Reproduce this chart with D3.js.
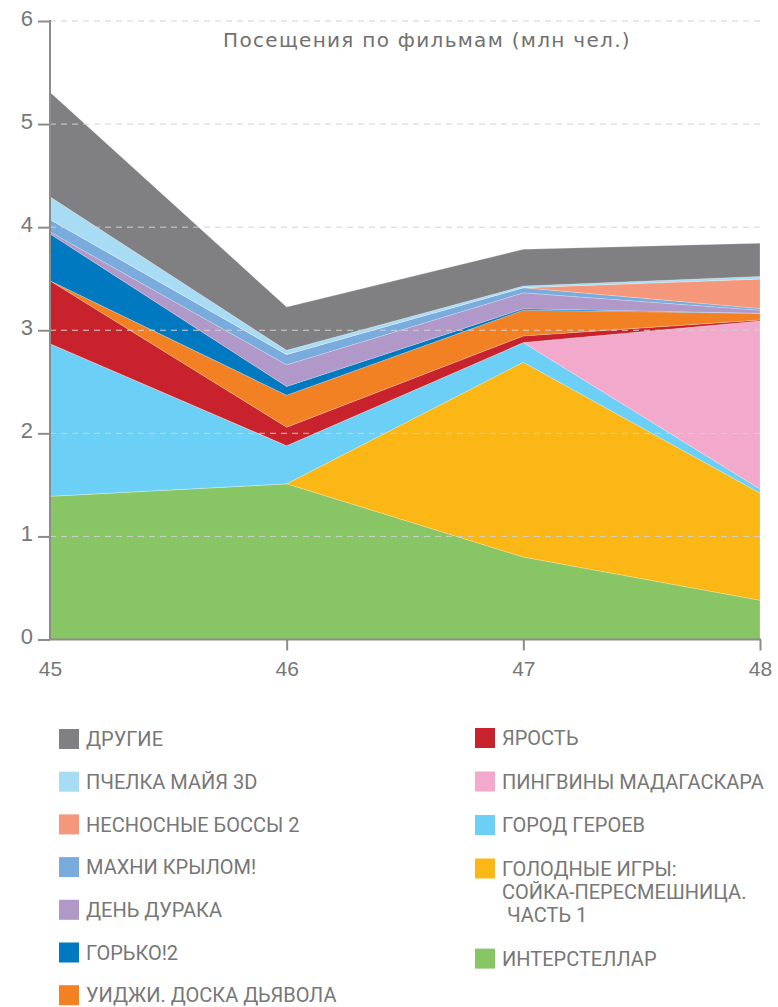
<!DOCTYPE html>
<html><head><meta charset="utf-8">
<script src="https://cdn.jsdelivr.net/npm/d3@7"></script>
<style>
body{margin:0;background:#fff;}
svg{display:block;font-family:"Liberation Sans", Arial, sans-serif;}
</style></head><body>
<svg id="c" width="778" height="1007"></svg>
<script>
const weeks = [45, 46, 47, 48];
const interstellar   = [1.39, 1.51, 0.80, 0.38];
const hungerGames    = [0, 0, 1.89, 1.04];
const bigHero        = [1.48, 0.37, 0.19, 0.04];
const penguins       = [0, 0, 0, 1.63];
const fury           = [0.61, 0.18, 0.065, 0.01];
const ouija          = [0, 0.31, 0.25, 0.065];
const gorko          = [0.455, 0.085, 0.013, 0];
const foolsDay       = [0.02, 0.21, 0.155, 0.03];
const makhni         = [0.12, 0.10, 0.05, 0.016];
const horribleBosses = [0, 0, 0, 0.285];
const maya           = [0.22, 0.04, 0.016, 0.026];
const others         = [1.015, 0.42, 0.356, 0.323];

const seriesNames = ["ИНТЕРСТЕЛЛАР","ГОЛОДНЫЕ ИГРЫ","ГОРОД ГЕРОЕВ","ПИНГВИНЫ МАДАГАСКАРА","ЯРОСТЬ",
  "УИДЖИ. ДОСКА ДЬЯВОЛА","ГОРЬКО!2","ДЕНЬ ДУРАКА","МАХНИ КРЫЛОМ!","НЕСНОСНЫЕ БОССЫ 2","ПЧЕЛКА МАЙЯ 3D","ДРУГИЕ"];
const seriesValues = [interstellar, hungerGames, bigHero, penguins, fury, ouija, gorko, foolsDay, makhni, horribleBosses, maya, others];
const colors = ["#88c564","#fbb715","#6ccff6","#f2a9cb","#c8232d","#f28123","#0079c1","#b099c8","#79abdc","#f4977a","#a8dcf5","#808083"];

const yTicks = [0,1,2,3,4,5,6];
const title = "Посещения по фильмам (млн чел.)";

const legendLeft = [
  {name:"ДРУГИЕ", lines:["ДРУГИЕ"]},
  {name:"ПЧЕЛКА МАЙЯ 3D", lines:["ПЧЕЛКА МАЙЯ 3D"]},
  {name:"НЕСНОСНЫЕ БОССЫ 2", lines:["НЕСНОСНЫЕ БОССЫ 2"]},
  {name:"МАХНИ КРЫЛОМ!", lines:["МАХНИ КРЫЛОМ!"]},
  {name:"ДЕНЬ ДУРАКА", lines:["ДЕНЬ ДУРАКА"]},
  {name:"ГОРЬКО!2", lines:["ГОРЬКО!2"]},
  {name:"УИДЖИ. ДОСКА ДЬЯВОЛА", lines:["УИДЖИ. ДОСКА ДЬЯВОЛА"]}
];
const legendRight = [
  {name:"ЯРОСТЬ", lines:["ЯРОСТЬ"]},
  {name:"ПИНГВИНЫ МАДАГАСКАРА", lines:["ПИНГВИНЫ МАДАГАСКАРА"]},
  {name:"ГОРОД ГЕРОЕВ", lines:["ГОРОД ГЕРОЕВ"]},
  {name:"ГОЛОДНЫЕ ИГРЫ", lines:["ГОЛОДНЫЕ ИГРЫ:","СОЙКА-ПЕРЕСМЕШНИЦА."," ЧАСТЬ 1"]},
  {name:"ИНТЕРСТЕЛЛАР", lines:["ИНТЕРСТЕЛЛАР"]}
];

const rows = weeks.map((w,i)=>{
  const r = {week:w};
  seriesNames.forEach((n,k)=>{ r[n] = seriesValues[k][i]; });
  return r;
});

const svg = d3.select("#c");
const mLeft = 50, mRight = 760, mTop = 21, mBottom = 639.5;
const x = d3.scaleLinear().domain([45,48]).range([mLeft,mRight]);
const y = d3.scaleLinear().domain([0,6]).range([mBottom,mTop]);

const stack = d3.stack().keys(seriesNames);
const layers = stack(rows);
const area = d3.area().x(d=>x(d.data.week)).y0(d=>y(d[0])).y1(d=>y(d[1]));

svg.append("g").selectAll("path").data(layers).join("path")
  .attr("d", area)
  .attr("fill", (d,i)=>colors[i])
  .attr("stroke", "rgba(255,255,255,0.35)")
  .attr("stroke-width", 0.6);

// gridlines
svg.append("g").selectAll("line").data(yTicks.filter(t=>t>0)).join("line")
  .attr("x1", mLeft).attr("x2", mRight)
  .attr("y1", d=>y(d)).attr("y2", d=>y(d))
  .attr("stroke", "#d0d0d0").attr("stroke-width", 1)
  .attr("stroke-dasharray", "6,5");

const axisColor = "#8c8c8c";
const textColor = "#777777";

const yAxis = svg.append("g").attr("transform", `translate(${mLeft},0)`)
  .call(d3.axisLeft(y).tickValues(yTicks).tickSize(12).tickPadding(5).tickFormat(d3.format("d")));
yAxis.select(".domain").attr("stroke", axisColor).attr("stroke-width", 2).attr("d", `M0,${mTop-1}V${mBottom}`);
yAxis.selectAll(".tick line").attr("stroke", axisColor).attr("stroke-width", 2);
yAxis.selectAll(".tick text").attr("fill", textColor).style("font-size","22px").attr("dy","0.2em");

const xAxis = svg.append("g").attr("transform", `translate(0,${mBottom})`)
  .call(d3.axisBottom(x).tickValues(weeks).tickSize(11).tickPadding(11).tickFormat(d3.format("d")));
xAxis.select(".domain").attr("stroke", axisColor).attr("stroke-width", 2).attr("d", `M${mLeft},0H${mRight+1}`);
xAxis.selectAll(".tick line").attr("stroke", axisColor).attr("stroke-width", 2)
  .attr("opacity", d=>d===45?0:1);
xAxis.selectAll(".tick text").attr("fill", textColor).style("font-size","21px");

svg.append("text").attr("x", 427).attr("y", 46.7).attr("text-anchor","middle")
  .attr("fill", "#707070").style("font-family","'DejaVu Sans', sans-serif")
  .style("font-size","20px").style("letter-spacing","1.3px").text(title);

function drawLegend(items, xs, ys0, step){
  let yc = ys0;
  items.forEach(it=>{
    const idx = seriesNames.indexOf(it.name);
    svg.append("rect").attr("x", xs).attr("y", yc-10).attr("width",20).attr("height",20).attr("fill", colors[idx]);
    it.lines.forEach((ln,j)=>{
      svg.append("text").attr("x", xs+27).attr("y", yc + j*23.3).attr("dy","0.36em")
        .attr("fill", textColor).style("font-family","Roboto, sans-serif")
        .style("font-size","20px").style("white-space","pre")
        .text(ln);
    });
    yc += step + (it.lines.length-1)*23.3;
  });
}
drawLegend(legendLeft, 59, 739, 42.7);
drawLegend(legendRight, 475, 738, 43.5);
</script>
</body></html>
